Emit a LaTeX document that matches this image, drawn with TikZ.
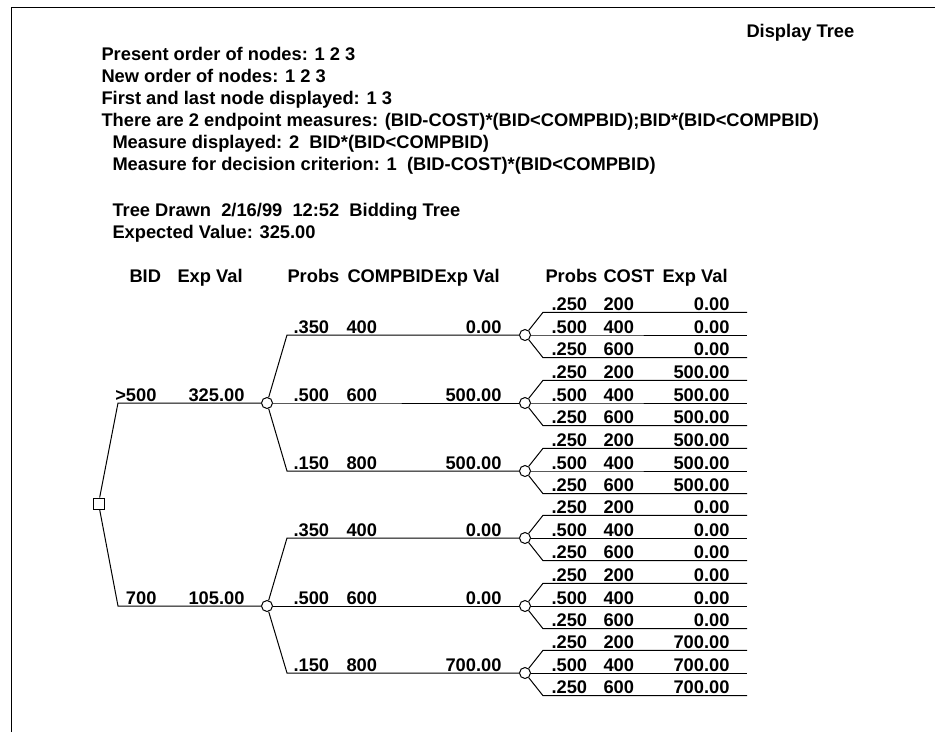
\documentclass[tikz,border=0pt]{standalone}
\usepackage{fontspec}
\setmainfont{Liberation Sans}
\tikzset{
  every node/.style={font=\fontsize{18.3}{22}\selectfont\bfseries, inner sep=0pt},
  txt/.style={anchor=base west},
  num/.style={anchor=base east},
  chance/.style={draw, circle, minimum size=11pt, fill=white},
  decision/.style={draw, rectangle, minimum size=11pt, fill=white}
}
\begin{document}
\begin{tikzpicture}[x=1pt,y=-1pt,line width=1pt]
\useasboundingbox (0,0) rectangle (935,732);
\draw (11,732) -- (11,7) -- (935,7);
% header
\node[txt] (title) at (746,37) {Display Tree};
\node[txt] (present) at (101,60) {Present order of nodes: 1 2 3};
\node[txt] (neworder) at (101,82) {New order of nodes: 1 2 3};
\node[txt] (firstlast) at (101,104) {First and last node displayed: 1 3};
\node[txt] (endpoints) at (101,126) {There are 2 endpoint measures: (BID-COST)*(BID<COMPBID);BID*(BID<COMPBID)};
\node[txt] (measure) at (112,148) {Measure displayed: 2~ BID*(BID<COMPBID)};
\node[txt] (criterion) at (112,170) {Measure for decision criterion: 1~ (BID-COST)*(BID<COMPBID)};
\node[txt] (drawn) at (112,216) {Tree Drawn~ 2/16/99~ 12:52~ Bidding Tree};
\node[txt] (expval) at (112,238) {Expected Value: 325.00};
% column heads
\node[txt] (hbid) at (129,282) {BID};
\node[txt] (hval) at (177,282) {Exp Val};
\node[txt] (hprob) at (287,282) {Probs};
\node[txt] (hcomp) at (347,282) {COMPBID};
\node[txt] (hval2) at (434,282) {Exp Val};
\node[txt] (hprob2) at (545,282) {Probs};
\node[txt] (hcost) at (603,282) {COST};
\node[txt] (hval3) at (662,282) {Exp Val};
% decision node
\node[decision] (root) at (98.5,503.5) {};
\coordinate (bidA) at (118,403);
\coordinate (bidB) at (118,606);
\node[chance] (cA) at (267,403) {};
\node[chance] (cB) at (267,606) {};
\draw (root) -- (bidA) -- (cA);
\draw (root) -- (bidB) -- (cB);
\node[num] (bidAt) at (157,401) {>500};
\node[num] (bidAv) at (245,401) {325.00};
\node[num] (bidBt) at (157,604) {700};
\node[num] (bidBv) at (245,604) {105.00};
% competitor bids
\foreach \p/\n/\y/\pr/\cb/\v in {cA/a1/335/.350/400/0.00, cA/a2/403/.500/600/500.00,
    cA/a3/471/.150/800/500.00, cB/b1/538/.350/400/0.00, cB/b2/606/.500/600/0.00,
    cB/b3/673/.150/800/700.00}{
  \coordinate (\n-k) at (287,\y);
  \node[chance] (\n) at (525,\y) {};
  \draw (\p) -- (\n-k) -- (\n);
  \node[txt] (\n-p) at (293,\y-2) {\pr};
  \node[txt] (\n-c) at (346,\y-2) {\cb};
  \node[num] (\n-v) at (502,\y-2) {\v};
  % costs
  \foreach \i/\dy/\q/\c in {1/-22.67/.250/200, 2/0/.500/400, 3/22.67/.250/600}{
    \coordinate (\n-\i) at (543,\y+\dy);
    \coordinate (\n-\i e) at (747,\y+\dy);
    \draw (\n) -- (\n-\i) -- (\n-\i e);
    \node[txt] (\n-\i p) at (551,\y+\dy-2) {\q};
    \node[txt] (\n-\i c) at (603,\y+\dy-2) {\c};
    \node[num] (\n-\i v) at (730,\y+\dy-2) {\v};
  }
}
\end{tikzpicture}
\end{document}
